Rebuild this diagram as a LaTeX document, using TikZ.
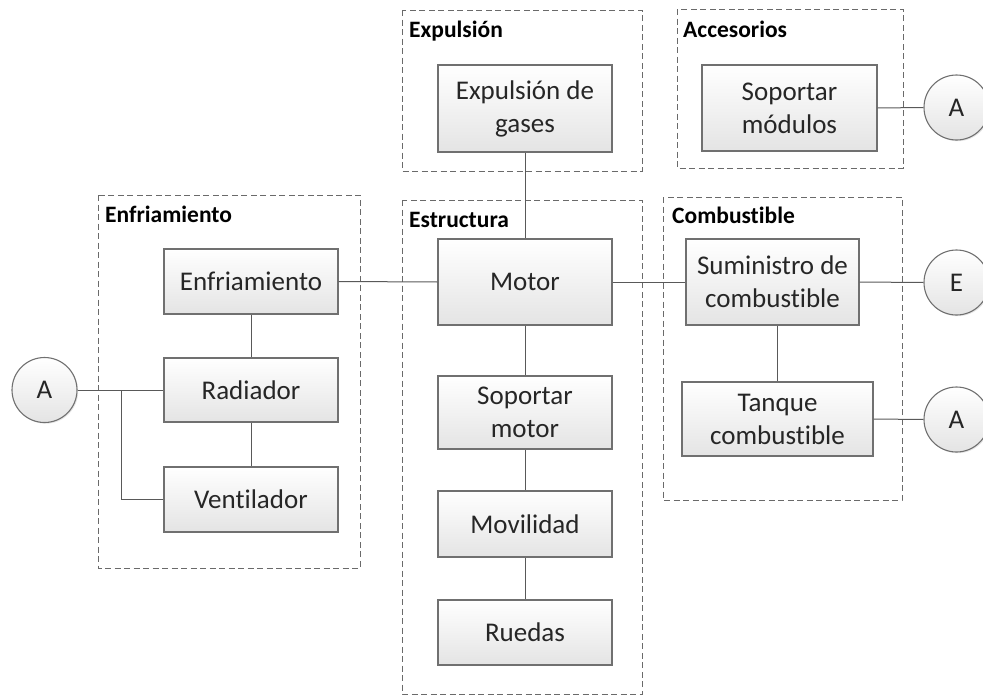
\documentclass[tikz,border=0pt]{standalone}
\usepackage{fontspec}
\setmainfont[Ligatures={NoCommon}]{Carlito}
\usetikzlibrary{shadows}
\definecolor{bordc}{HTML}{707070}
\definecolor{linec}{HTML}{595959}
\definecolor{dashc}{HTML}{6A6A6A}
\definecolor{fillbot}{HTML}{E4E4E4}
\tikzset{
  blk/.style={draw=bordc, line width=1.1pt, top color=white, bottom color=fillbot,
    align=center, inner sep=0pt, font=\fontsize{27}{33}\selectfont, text=black!85,
    drop shadow={shadow xshift=1.2pt, shadow yshift=-1.2pt, fill=black!20, opacity=0.5}},
  circ/.style={circle, draw=bordc, line width=1.1pt, top color=white, bottom color=fillbot,
    minimum size=65pt, inner sep=0pt, font=\fontsize{27}{33}\selectfont, text=black!85,
    drop shadow={shadow xshift=1.2pt, shadow yshift=-1.2pt, fill=black!20, opacity=0.5}},
  grp/.style={draw=dashc, line width=1pt, dash pattern=on 6pt off 3.5pt},
  gtitle/.style={anchor=base west, inner sep=0pt, font=\fontsize{23.5}{28}\selectfont\bfseries, text=black},
  conn/.style={draw=linec, line width=1pt}
}
\begin{document}
\begin{tikzpicture}[x=1pt,y=-1pt]
\useasboundingbox (0,0) rectangle (983,696);
% groups
\draw[grp] (402,10) rectangle (642,171);
\node[gtitle] (tExp) at (409,37) {Expulsión};
\draw[grp] (677,9) rectangle (903,168);
\node[gtitle] (tAcc) at (683,37) {Accesorios};
\draw[grp] (98,195) rectangle (360,568);
\node[gtitle] (tEnf) at (105,222) {Enfriamiento};
\draw[grp] (402,200) rectangle (642,694);
\node[gtitle] (tEst) at (409,227) {Estructura};
\draw[grp] (663,197) rectangle (902,500);
\node[gtitle] (tCom) at (672,223) {Combustible};
% boxes
\node[blk, minimum width=174pt, minimum height=87pt] (gases) at (525,108.5) {Expulsión de\\gases};
\node[blk, minimum width=175pt, minimum height=86pt] (modulos) at (789.5,108) {Soportar\\módulos};
\node[blk, minimum width=174pt, minimum height=65pt] (enf) at (251,281.5) {Enfriamiento};
\node[blk, minimum width=174pt, minimum height=64pt] (rad) at (251,390) {Radiador};
\node[blk, minimum width=174pt, minimum height=65pt] (ven) at (251,499.5) {Ventilador};
\node[blk, minimum width=174pt, minimum height=86pt] (motor) at (525,282) {Motor};
\node[blk, minimum width=174pt, minimum height=73pt] (sopm) at (525,412.5) {Soportar\\motor};
\node[blk, minimum width=174pt, minimum height=66pt] (mov) at (525,524) {Movilidad};
\node[blk, minimum width=174pt, minimum height=65pt] (rue) at (525,632.5) {Ruedas};
\node[blk, minimum width=173pt, minimum height=86pt] (sum) at (772.5,282) {Suministro de\\combustible};
\node[blk, minimum width=191pt, minimum height=74pt] (tan) at (777.5,419) {Tanque\\combustible};
% circles
\node[circ] (aL) at (44.5,390) {A};
\node[circ] (aT) at (956.5,107.5) {A};
\node[circ] (eR) at (956.5,282.5) {E};
\node[circ] (aB) at (956.5,419.5) {A};
% connectors
\coordinate (br) at (121,390);
\draw[conn] (gases.south) -- (motor.north);
\draw[conn] (enf.east) -- (motor.west);
\draw[conn] (motor.east) -- (sum.west);
\draw[conn] (motor.south) -- (sopm.north);
\draw[conn] (sopm.south) -- (mov.north);
\draw[conn] (mov.south) -- (rue.north);
\draw[conn] (enf.south) -- (rad.north);
\draw[conn] (rad.south) -- (ven.north);
\draw[conn] (aL.east) -- (rad.west);
\draw[conn] (br) |- (ven.west);
\draw[conn] (modulos.east) -- (aT.west);
\draw[conn] (sum.east) -- (eR.west);
\draw[conn] (tan.north) -- (tan.north |- sum.south);
\draw[conn] (tan.east) -- (aB.west);
\end{tikzpicture}
\end{document}
